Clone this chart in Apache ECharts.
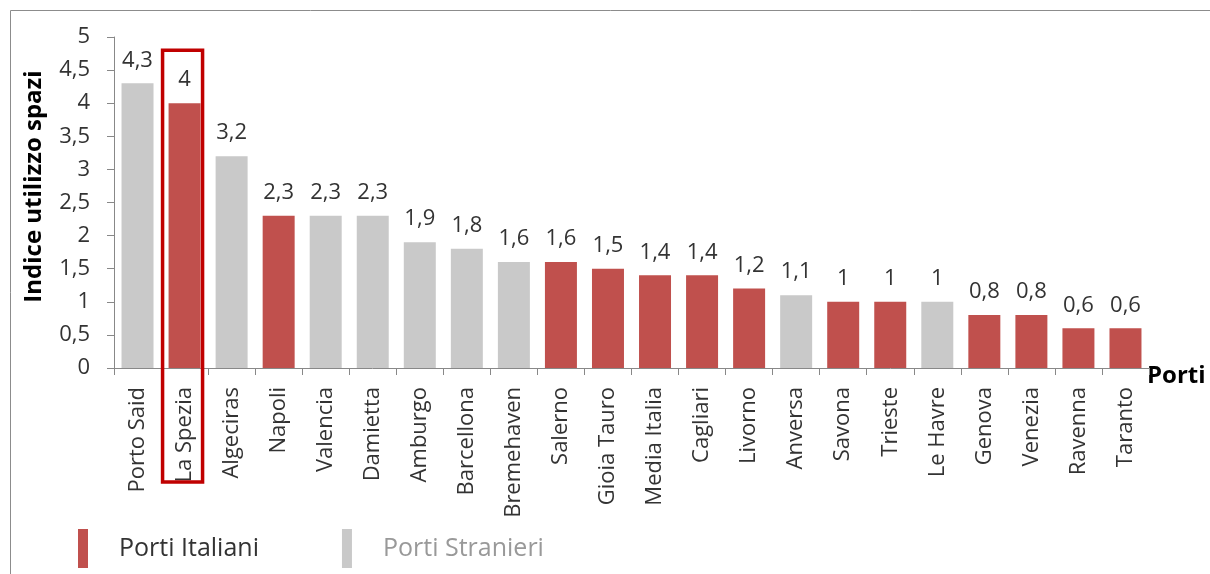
<!DOCTYPE html>
<html><head><meta charset="utf-8">
<script src="https://cdn.jsdelivr.net/npm/echarts@6/dist/echarts.min.js"></script>
<style>html,body{margin:0;padding:0;background:#fff}#c{width:1210px;height:574px}</style>
</head><body><div id="c"></div>
<script>
const categories = ['Porto Said','La Spezia','Algeciras','Napoli','Valencia','Damietta','Amburgo','Barcellona','Bremehaven','Salerno','Gioia Tauro','Media Italia','Cagliari','Livorno','Anversa','Savona','Trieste','Le Havre','Genova','Venezia','Ravenna','Taranto'];
const values = [4.3,4,3.2,2.3,2.3,2.3,1.9,1.8,1.6,1.6,1.5,1.4,1.4,1.2,1.1,1,1,1,0.8,0.8,0.6,0.6];
const italian = [false,true,false,true,false,false,false,false,false,true,true,true,true,true,false,true,true,false,true,true,true,true];
const seriesNames = ['Porti Italiani','Porti Stranieri'];
const yTicks = {min:0, max:5, interval:0.5};
const yAxisTitle = 'Indice utilizzo spazi';
const xAxisTitle = 'Porti';
const highlighted = 'La Spezia';

const FONT = 'Open Sans';
const RED = '#c0504d', GREY = '#c9c9c9';
const comma = v => String(v).replace('.', ',');
const itaData = values.map((v,i)=> italian[i] ? v : '-');
const strData = values.map((v,i)=> italian[i] ? '-' : v);

const chart = echarts.init(document.getElementById('c'));
const lbl = {show:true, position:'top', distance:12, color:'#333', fontFamily:FONT, fontSize:22, formatter:p=>comma(p.value)};
chart.setOption({
  animation:false,
  textStyle:{fontFamily:FONT},
  grid:{left:114, right:61, top:37, bottom:206, containLabel:false},
  legend:{
    left:73, top:524, itemWidth:10, itemHeight:39, itemGap:83, icon:'rect',
    textStyle:{fontFamily:FONT, fontSize:25, color:'#333', padding:[0,0,0,26]},
    data:[{name:seriesNames[0]},{name:seriesNames[1], textStyle:{color:'#999'}}]
  },
  xAxis:{
    type:'category', data:categories,
    name:xAxisTitle, nameLocation:'end', nameGap:-2,
    nameTextStyle:{fontFamily:FONT, fontWeight:'bold', fontSize:24, color:'#000', align:'left', verticalAlign:'top', padding:[-4,0,0,0]},
    axisLine:{lineStyle:{color:'#888'}},
    axisTick:{show:true, length:7, alignWithLabel:false, lineStyle:{color:'#888'}},
    axisLabel:{interval:0, rotate:90, margin:19, color:'#333', fontSize:22, fontFamily:FONT}
  },
  yAxis:{
    type:'value', min:yTicks.min, max:yTicks.max, interval:yTicks.interval,
    name:yAxisTitle, nameLocation:'middle', nameGap:68, nameRotate:90,
    nameTextStyle:{fontFamily:FONT, fontWeight:'bold', fontSize:24, color:'#000', padding:[0,0,0,32]},
    axisLine:{show:true, lineStyle:{color:'#888'}},
    axisTick:{show:true, length:7, lineStyle:{color:'#888'}},
    splitLine:{show:false},
    axisLabel:{margin:24, color:'#333', fontSize:22, fontFamily:FONT, formatter:v=>comma(v)}
  },
  series:[
    {name:seriesNames[0], type:'bar', stack:'a', data:itaData, barCategoryGap:'32%', itemStyle:{color:RED}, label:lbl},
    {name:seriesNames[1], type:'bar', stack:'a', data:strData, barCategoryGap:'32%', itemStyle:{color:GREY}, label:lbl}
  ]
});

const cx = chart.convertToPixel({xAxisIndex:0}, highlighted);
const yTop = chart.convertToPixel({yAxisIndex:0}, 4.8);
const y0 = chart.convertToPixel({yAxisIndex:0}, 0);
chart.setOption({
  graphic:[
    {type:'rect', silent:true, z:100, shape:{x:10.5, y:10.5, width:1400, height:800}, style:{fill:'none', stroke:'#8c8c8c', lineWidth:1}},
    {type:'rect', silent:true, z:100, shape:{x:cx-22, y:yTop, width:40, height:(y0 - yTop) + 114}, style:{fill:'none', stroke:'#c00000', lineWidth:3.5}}
  ]
});
</script></body></html>
